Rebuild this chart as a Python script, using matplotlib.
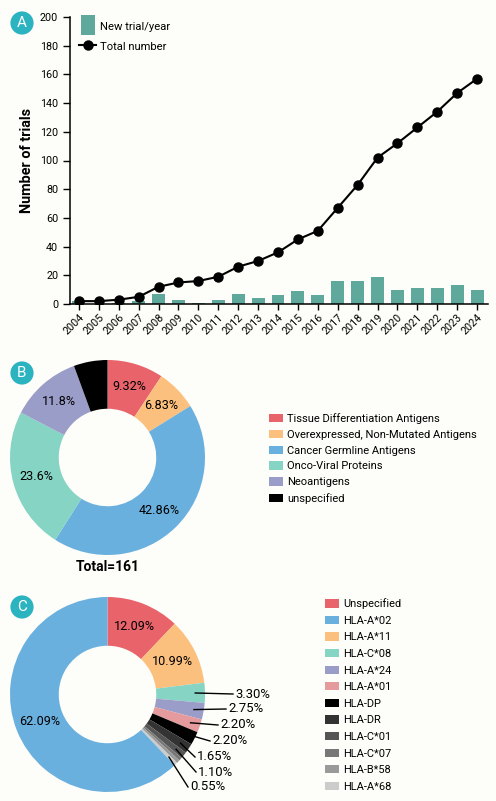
import matplotlib
matplotlib.use("Agg")
import matplotlib.pyplot as plt
from matplotlib.lines import Line2D
import numpy as np

plt.rcParams['font.family'] = ['Roboto', 'DejaVu Sans']

# ---- Data ----
years = [str(y) for y in range(2004, 2025)]
new_per_year = [2, 0, 1, 2, 7, 3, 1, 3, 7, 4, 6, 9, 6, 16, 16, 19, 10, 11, 11, 13, 10]
total_number = [2, 2, 3, 5, 12, 15, 16, 19, 26, 30, 36, 45, 51, 67, 83, 102, 112, 123, 134, 147, 157]

b_labels = ["Tissue Differentiation Antigens", "Overexpressed, Non-Mutated Antigens",
            "Cancer Germline Antigens", "Onco-Viral Proteins", "Neoantigens", "unspecified"]
b_counts = [15, 11, 69, 38, 19, 9]
b_pct_text = ["9.32%", "6.83%", "42.86%", "23.6%", "11.8%", ""]
b_colors = ["#e8646a", "#fcc07e", "#6ab0de", "#86d4c4", "#9b9dc9", "#000000"]

c_labels = ["Unspecified", "HLA-A*11", "HLA-C*08", "HLA-A*24", "HLA-A*01", "HLA-DP",
            "HLA-DR", "HLA-C*01", "HLA-C*07", "HLA-B*58", "HLA-A*68", "HLA-A*02"]
c_pct = [12.09, 10.99, 3.30, 2.75, 2.20, 2.20, 1.65, 1.10, 0.55, 0.55, 0.55, 62.09]
c_colors = ["#e8646a", "#fcc07e", "#86d4c4", "#9b9dc9", "#e59a9e", "#000000",
            "#333333", "#555555", "#777777", "#9a9a9a", "#cccccc", "#6ab0de"]
c_legend_order = ["Unspecified", "HLA-A*02", "HLA-A*11", "HLA-C*08", "HLA-A*24", "HLA-A*01",
                  "HLA-DP", "HLA-DR", "HLA-C*01", "HLA-C*07", "HLA-B*58", "HLA-A*68"]

BG = "#fdfdf9"
BAR_C = '#5fa89c'
W, H = 496, 801
fig = plt.figure(figsize=(W / 100, H / 100), dpi=100, facecolor=BG)
renderer = fig.canvas.get_renderer()
PT = 100 / 72.0  # px per pt

def fit_fs(s, target_px, weight='normal', ref=10.0):
    t = fig.text(0, 0, s, fontsize=ref, fontweight=weight)
    w = t.get_window_extent(renderer=renderer).width
    t.remove()
    return ref * target_px / w

def px_axes(l, t, r, b):
    return fig.add_axes([l / W, 1 - b / H, (r - l) / W, (b - t) / H])

def badge(x, y, letter):
    fig.text(x / W, 1 - y / H, letter, ha='center', va='center', color='white', fontsize=11,
             bbox=dict(boxstyle='circle,pad=0.3', fc='#2bb3c0', ec='none'))

fs_tick = fit_fs("200", 18)
fs_leg_a = fit_fs("New trial/year", 70)
fs_ylab = fit_fs("Number of trials", 105, 'bold')
fs_pct = fit_fs("42.86%", 41)
fs_small = fit_fs("3.30%", 35)
fs_total = fit_fs("Total=161", 64, 'bold')
fs_leg_b = fit_fs("Tissue Differentiation Antigens", 154)
fs_leg_c = fit_fs("Unspecified", 58)

def leg_kw(fs, hl_px, hh_px, pad_px):
    return dict(fontsize=fs, handlelength=hl_px / PT / fs, handleheight=hh_px / PT / fs,
                handletextpad=pad_px / PT / fs, borderpad=0, borderaxespad=0, frameon=False)

# ---- Panel A ----
axA = px_axes(70, 17, 488, 304)
axA.set_facecolor(BG)
x = np.arange(len(years))
axA.bar(x, new_per_year, width=0.65, color=BAR_C, zorder=1)
axA.plot(x, total_number, '-o', color='black', markersize=6.5, linewidth=1.5, zorder=2)
axA.set_xlim(-0.45, 20.55)
axA.set_ylim(0, 200)
axA.set_yticks(range(0, 201, 20))
axA.set_xticks(x)
axA.set_xticklabels(years, rotation=45, ha='right', rotation_mode='anchor', fontsize=fs_tick)
axA.tick_params(axis='y', labelsize=fs_tick, length=5, width=1)
axA.tick_params(axis='x', length=4, width=1, pad=2)
for s in ['top', 'right']:
    axA.spines[s].set_visible(False)
for s in ['left', 'bottom']:
    axA.spines[s].set_linewidth(1.1)
axA.set_ylabel('Number of trials', fontsize=fs_ylab, fontweight='bold', labelpad=4)
rect = [(-0.36, -0.5), (0.36, -0.5), (0.36, 0.5), (-0.36, 0.5), (-0.36, -0.5)]
h_bar = Line2D([], [], ls='none', marker=rect, markersize=14, color=BAR_C, markeredgewidth=0)
h_line = Line2D([], [], ls='-', lw=1.5, color='black', marker='o', markersize=6.5)
kwA = leg_kw(fs_leg_a, 17, 14, 4)
kwA['labelspacing'] = 0.75
axA.legend([h_bar, h_line], ['New trial/year', 'Total number'], loc='upper left',
           bbox_to_anchor=((79 - 70) / 418, (304 - 20) / 287), **kwA)
badge(22, 23, 'A')

# ---- Panel B ----
R = 97.5
cxB, cyB = 107.5, 457.5
axB = px_axes(cxB - R, cyB - R, cxB + R, cyB + R)
axB.set_facecolor(BG)
wedges, _ = axB.pie(b_counts, colors=b_colors, startangle=90, counterclock=False,
                    wedgeprops=dict(width=0.5, edgecolor='none'))
axB.set_xlim(-1, 1); axB.set_ylim(-1, 1); axB.set_aspect('equal')
tot = sum(b_counts)
cum = 0
for cnt, txt in zip(b_counts, b_pct_text):
    mid = 90 - (cum + cnt / 2) / tot * 360
    cum += cnt
    if txt:
        r = 0.76
        axB.text(r * np.cos(np.radians(mid)), r * np.sin(np.radians(mid)), txt,
                 ha='center', va='center', fontsize=fs_pct)
axB.text(0, -1.12, 'Total=161', ha='center', va='center', fontsize=fs_total, fontweight='bold')
kwB = leg_kw(fs_leg_b, 14, 8.5, 4)
kwB['labelspacing'] = 0.53
fig.legend(wedges, b_labels, loc='center left', bbox_to_anchor=(269 / W, 1 - 458.5 / H), **kwB)
badge(22, 373, 'B')

# ---- Panel C ----
R2 = 97.5
cxC, cyC = 107.5, 694.5
axC = px_axes(cxC - R2, cyC - R2, cxC + R2, cyC + R2)
axC.set_facecolor(BG)
wedgesC, _ = axC.pie(c_pct, colors=c_colors, startangle=90, counterclock=False,
                     wedgeprops=dict(width=0.5, edgecolor='none'))
axC.set_xlim(-1, 1); axC.set_ylim(-1, 1); axC.set_aspect('equal')
totC = sum(c_pct)
mids = []
cum = 0
for p in c_pct:
    mids.append(90 - (cum + p / 2) / totC * 360)
    cum += p
for i in [0, 1, 11]:
    r = 0.75
    axC.text(r * np.cos(np.radians(mids[i])), r * np.sin(np.radians(mids[i])),
             f"{c_pct[i]:.2f}%", ha='center', va='center', fontsize=fs_pct)
small_idx = [2, 3, 4, 5, 6, 7, 10]
text_px = [(236, 694), (229, 709), (221, 725), (213, 741), (198, 757), (199, 772), (191, 787)]
for i, (tx, ty) in zip(small_idx, text_px):
    a = np.radians(mids[i])
    sx, sy = 0.9 * np.cos(a), 0.9 * np.sin(a)
    ex, ey = (tx - 3 - cxC) / R2, (cyC - ty) / R2
    axC.plot([sx, ex], [sy, ey], color='black', lw=1, clip_on=False)
    axC.text(ex + 2 / R2, ey, f"{c_pct[i]:.2f}%", ha='left', va='center', fontsize=fs_small,
             clip_on=False)
handle_map = dict(zip(c_labels, wedgesC))
kwC = leg_kw(fs_leg_c, 14, 8.5, 4)
kwC['labelspacing'] = 0.6
fig.legend([handle_map[l] for l in c_legend_order], c_legend_order, loc='center left',
           bbox_to_anchor=(325 / W, 1 - 695 / H), **kwC)
badge(22, 607, 'C')

fig.savefig('out.png', dpi=100, facecolor=BG)
